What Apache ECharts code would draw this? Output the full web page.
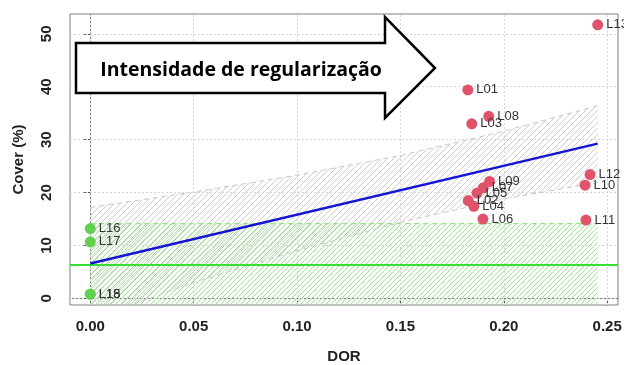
<!DOCTYPE html>
<html>
<head>
<meta charset="utf-8">
<script src="https://cdn.jsdelivr.net/npm/echarts@6/dist/echarts.min.js"></script>
<style>html,body{margin:0;padding:0;background:#fff;}#chart{width:624px;height:365px;}</style>
</head>
<body>
<div id="chart"></div>
<script>
// ---- data ----
var redNames = ['L01','L02','L03','L04','L05','L06','L07','L08','L09','L10','L11','L12','L13'];
var redX =     [0.1826,0.1828,0.1845,0.1855,0.1870,0.1899,0.1900,0.1927,0.1931,0.2393,0.2397,0.2417,0.2454];
var redY =     [39.4,  18.5,  33.0,  17.4,  19.9,  15.0,  20.9,  34.4,  22.1,  21.4,  14.8,  23.4,  51.7];
var greenNames = ['L18','L15','L16','L17'];
var greenX =     [0, 0, 0, 0];
var greenY =     [0.8, 0.8, 13.2, 10.7];
// regression line (blue) endpoints
var fitX = [0, 0.2454];
var fitY = [6.6, 29.25];
// grey confidence band
var bandX =     [0, 0.05, 0.10, 0.15, 0.20, 0.2454];
var bandUpper = [17.2, 20.1, 23.3, 27.0, 31.6, 36.4];
var bandLower = [-4.0, 3.0, 9.0, 14.4, 18.8, 21.9];
// green reference band (mean line + upper limit)
var greenBandX = [0, 0.2454];
var greenMean = 6.4;
var greenUpper = 14.15;
var greenLower = -1.6;
// axes
var xTicks = [0, 0.05, 0.10, 0.15, 0.20, 0.25];
var yTicks = [0, 10, 20, 30, 40, 50];
var xRange = [-0.00982, 0.25522];
var yRange = [-1.24, 53.74];
var arrowText = 'Intensidade de regularização';

function hatch(color, step) {
  var c = document.createElement('canvas');
  c.width = step; c.height = step;
  var g = c.getContext('2d');
  g.strokeStyle = color; g.lineWidth = 1;
  g.beginPath();
  g.moveTo(0, step); g.lineTo(step, 0);
  g.moveTo(-1, 1); g.lineTo(1, -1);
  g.moveTo(step - 1, step + 1); g.lineTo(step + 1, step - 1);
  g.stroke();
  return c;
}
var greyPattern = hatch('#cfcfcf', 6);
var greenPattern = hatch('#9fe893', 5);

function polyBand(xs, lo, hi, pattern) {
  return function (params, api) {
    var pts = [];
    for (var i = 0; i < xs.length; i++) pts.push(api.coord([xs[i], hi[i]]));
    for (var j = xs.length - 1; j >= 0; j--) pts.push(api.coord([xs[j], lo[j]]));
    var cs = params.coordSys;
    return {
      type: 'polygon',
      shape: { points: pts },
      style: { fill: { image: pattern, repeat: 'repeat' }, stroke: null },
      clipPath: { type: 'rect', shape: { x: cs.x, y: cs.y, width: cs.width, height: cs.height } }
    };
  };
}

function pairs(xs, ys) { return xs.map(function (x, i) { return [x, ys[i]]; }); }
function named(xs, ys, ns) { return xs.map(function (x, i) { return { value: [x, ys[i]], name: ns[i] }; }); }

var labelFont = { show: true, position: 'right', distance: 3, formatter: '{b}', color: '#333',
  fontSize: 13, fontFamily: 'Liberation Sans, Arial, sans-serif' };

var chart = echarts.init(document.getElementById('chart'), null, { renderer: 'canvas' });
chart.setOption({
  animation: false,
  backgroundColor: '#ffffff',
  grid: { left: 70, right: 6, top: 14, bottom: 60, show: true, borderColor: '#808080', borderWidth: 1,
    backgroundColor: 'transparent', containLabel: false, outerBoundsMode: 'none' },
  xAxis: {
    type: 'value', min: xRange[0], max: xRange[1],
    name: 'DOR', nameLocation: 'middle', nameGap: 44,
    nameTextStyle: { fontWeight: 'bold', fontSize: 15, color: '#222', fontFamily: 'Liberation Sans, Arial, sans-serif' },
    axisLine: { show: true, lineStyle: { color: '#808080', width: 1 } },
    axisTick: { show: true, length: 7, customValues: xTicks, lineStyle: { color: '#555', width: 1 } },
    axisLabel: { customValues: xTicks, margin: 14, fontWeight: 'bold', fontSize: 15, color: '#222',
      fontFamily: 'Liberation Sans, Arial, sans-serif', formatter: function (v) { return v.toFixed(2); } },
    splitLine: { show: false }
  },
  yAxis: {
    type: 'value', min: yRange[0], max: yRange[1],
    name: 'Cover (%)', nameLocation: 'middle', nameGap: 44,
    nameTextStyle: { fontWeight: 'bold', fontSize: 15, color: '#222', fontFamily: 'Liberation Sans, Arial, sans-serif' },
    axisLine: { show: true, lineStyle: { color: '#808080', width: 1 } },
    axisTick: { show: true, length: 7, customValues: yTicks, lineStyle: { color: '#555', width: 1 } },
    axisLabel: { customValues: yTicks, rotate: 90, margin: 16, fontWeight: 'bold', fontSize: 15, color: '#222',
      fontFamily: 'Liberation Sans, Arial, sans-serif' },
    splitLine: { show: false }
  },
  series: [
    { // grid lines
      type: 'line', data: [], silent: true, z: 0,
      markLine: { silent: true, symbol: ['none', 'none'], label: { show: false },
        lineStyle: { color: '#d6d6d6', type: [2, 2], width: 1 },
        data: xTicks.map(function (v) { return { xAxis: v }; }).concat(yTicks.map(function (v) { return { yAxis: v }; })) }
    },
    { type: 'custom', renderItem: polyBand(bandX, bandLower, bandUpper, greyPattern), data: [0], z: 1, silent: true },
    { type: 'custom', renderItem: polyBand(greenBandX, [greenLower, greenLower], [greenUpper, greenUpper], greenPattern), data: [0], z: 2, silent: true },
    { type: 'line', data: pairs(bandX, bandUpper), symbol: 'none', z: 3, lineStyle: { color: '#c8c8c8', type: [5, 4], width: 1 } },
    { type: 'line', data: pairs(bandX, bandLower), symbol: 'none', z: 3, lineStyle: { color: '#c8c8c8', type: [5, 4], width: 1 } },
    { type: 'line', data: pairs(greenBandX, [greenUpper, greenUpper]), symbol: 'none', z: 3, lineStyle: { color: '#8ee47e', type: [5, 4], width: 1.2 } },
    { type: 'line', data: [], z: 4,
      markLine: { silent: true, symbol: ['none', 'none'], label: { show: false },
        lineStyle: { color: '#33e033', type: 'solid', width: 2 }, data: [{ yAxis: greenMean }] } },
    { type: 'line', data: pairs(fitX, fitY), symbol: 'none', z: 5, lineStyle: { color: '#1414d2', width: 2.5 } },
    { type: 'scatter', data: named(redX, redY, redNames), symbolSize: 11, z: 6,
      itemStyle: { color: '#DF536B', opacity: 1 }, label: labelFont },
    { type: 'scatter', data: named(greenX, greenY, greenNames), symbolSize: 11, z: 6,
      itemStyle: { color: '#61D04F', opacity: 1 }, label: labelFont }
  ],
  graphic: [
    { type: 'polygon', z: 100,
      shape: { points: [[76, 43], [385, 43], [385, 17], [435, 68], [385, 118], [385, 93], [76, 93]] },
      style: { fill: '#ffffff', stroke: '#000000', lineWidth: 2.5, lineJoin: 'miter' } },
    { type: 'text', z: 101, x: 241, y: 70,
      style: { text: arrowText, fill: '#000', font: 'bold 19.5px "Open Sans", sans-serif', textAlign: 'center', textVerticalAlign: 'middle' } }
  ]
});
</script>
</body>
</html>
